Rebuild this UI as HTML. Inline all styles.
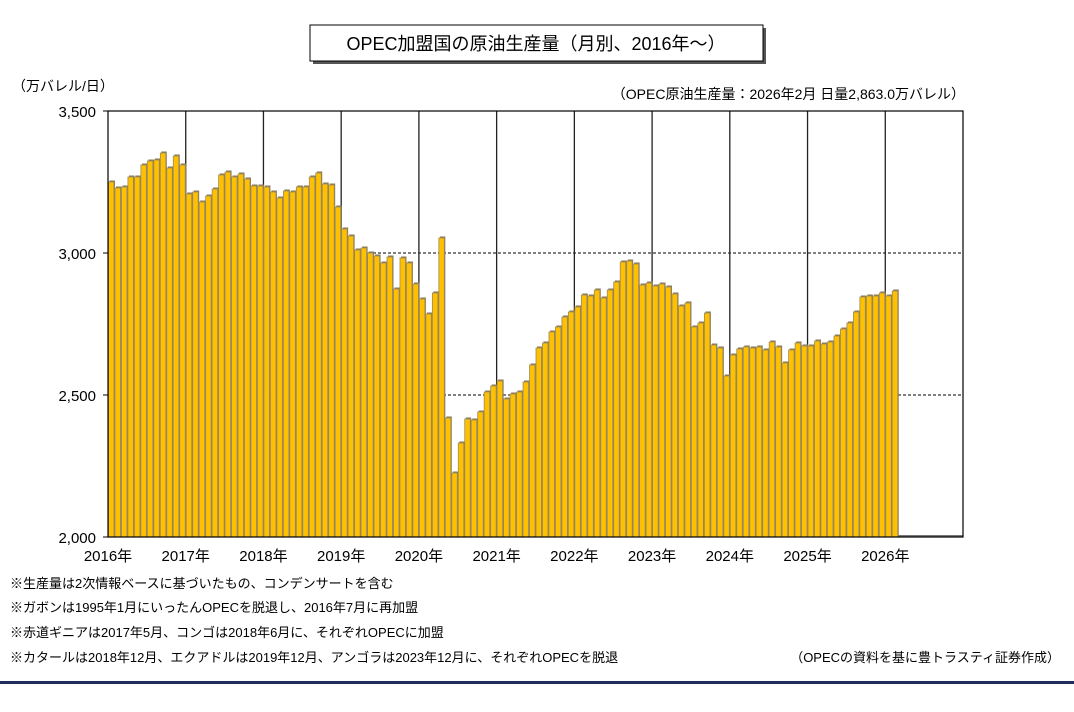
<!DOCTYPE html>
<html><head><meta charset="utf-8"><style>
body{margin:0;background:#fff;width:1074px;height:707px;overflow:hidden}
svg text{font-family:"Liberation Sans","Noto Sans CJK JP",sans-serif;fill:#000}
</style></head><body>
<svg id="s" width="1074" height="707" xmlns="http://www.w3.org/2000/svg">
<rect x="313" y="28" width="453" height="36" fill="#555"/>
<rect x="310" y="25" width="453" height="36" fill="#fff" stroke="#000" stroke-width="1"/>
<text x="536" y="50" font-size="18" text-anchor="middle">OPEC加盟国の原油生産量（月別、2016年～）</text>
<text x="12" y="91" font-size="14">（万バレル/日）</text>
<text x="965" y="99" font-size="14" text-anchor="end">（OPEC原油生産量：2026年2月  日量2,863.0万バレル）</text>
<g id="g"></g>
<text x="10" y="588" font-size="13">※生産量は2次情報ベースに基づいたもの、コンデンサートを含む</text>
<text x="10" y="612" font-size="13">※ガボンは1995年1月にいったんOPECを脱退し、2016年7月に再加盟</text>
<text x="10" y="637" font-size="13">※赤道ギニアは2017年5月、コンゴは2018年6月に、それぞれOPECに加盟</text>
<text x="10" y="662" font-size="13">※カタールは2018年12月、エクアドルは2019年12月、アンゴラは2023年12月に、それぞれOPECを脱退</text>
<text x="1060" y="662" font-size="13" text-anchor="end">（OPECの資料を基に豊トラスティ証券作成）</text>
<rect x="0" y="681" width="1074" height="3" fill="#1f2d5a"/>
</svg>
<script>
var tops=[182,188,187,177,177,165,161,160,153,168,156,165,
194,192,202,196,189,175,172,177,174,179,186,186,
187,192,198,191,192,187,187,177,173,184,185,207,
229,236,250,248,253,256,263,257,289,258,263,284,
299,314,293,238,418,473,443,419,420,412,392,386,
381,399,394,392,382,365,348,343,332,327,317,312,
307,295,296,290,298,290,282,262,261,264,285,283,
286,284,287,294,306,303,327,323,313,345,348,376,
355,349,347,348,347,350,342,347,363,350,343,346,
346,341,344,342,336,329,323,312,297,296,296,293,
296,291];
var L=108,R=963,T=111,B=537,yw=(R-L)/11,bw=yw/12,h='';
h+='<line x1="'+L+'" x2="'+R+'" y1="253" y2="253" stroke="#000" stroke-dasharray="3,2"/>';
h+='<line x1="'+L+'" x2="'+R+'" y1="395" y2="395" stroke="#000" stroke-dasharray="3,2"/>';
for(var i=1;i<11;i++){var x=L+i*yw;h+='<line x1="'+x+'" x2="'+x+'" y1="'+T+'" y2="'+B+'" stroke="#222" stroke-width="1.3"/>';}
for(var i=0;i<tops.length;i++){var x=L+i*bw,t=tops[i];
h+='<rect x="'+(x+1.5)+'" y="'+(t-1.5)+'" width="'+(bw-1)+'" height="'+(B-t+1.5)+'" fill="#8a7a50"/>';
h+='<rect x="'+(x+0.5)+'" y="'+t+'" width="'+(bw-1)+'" height="'+(B-t)+'" fill="#FFC000" stroke="#9a8a60" stroke-width="0.8"/>';}
h+='<line x1="'+(L+122*bw)+'" x2="'+R+'" y1="'+(B-1)+'" y2="'+(B-1)+'" stroke="#777" stroke-width="2"/>';
h+='<rect x="'+L+'" y="'+T+'" width="'+(R-L)+'" height="'+(B-T)+'" fill="none" stroke="#000" stroke-width="1.2"/>';
var yl=[[111,'3,500'],[253,'3,000'],[395,'2,500'],[537,'2,000']];
yl.forEach(function(a){h+='<line x1="'+(L-5)+'" x2="'+L+'" y1="'+a[0]+'" y2="'+a[0]+'" stroke="#000"/><text x="'+(L-12)+'" y="'+(a[0]+6)+'" font-size="15" text-anchor="end">'+a[1]+'</text>';});
for(var i=0;i<11;i++){h+='<text x="'+(L+i*yw)+'" y="'+(B+24)+'" font-size="15" text-anchor="middle">'+(2016+i)+'年</text>';}
document.getElementById('g').innerHTML=h;
</script>
</body></html>
